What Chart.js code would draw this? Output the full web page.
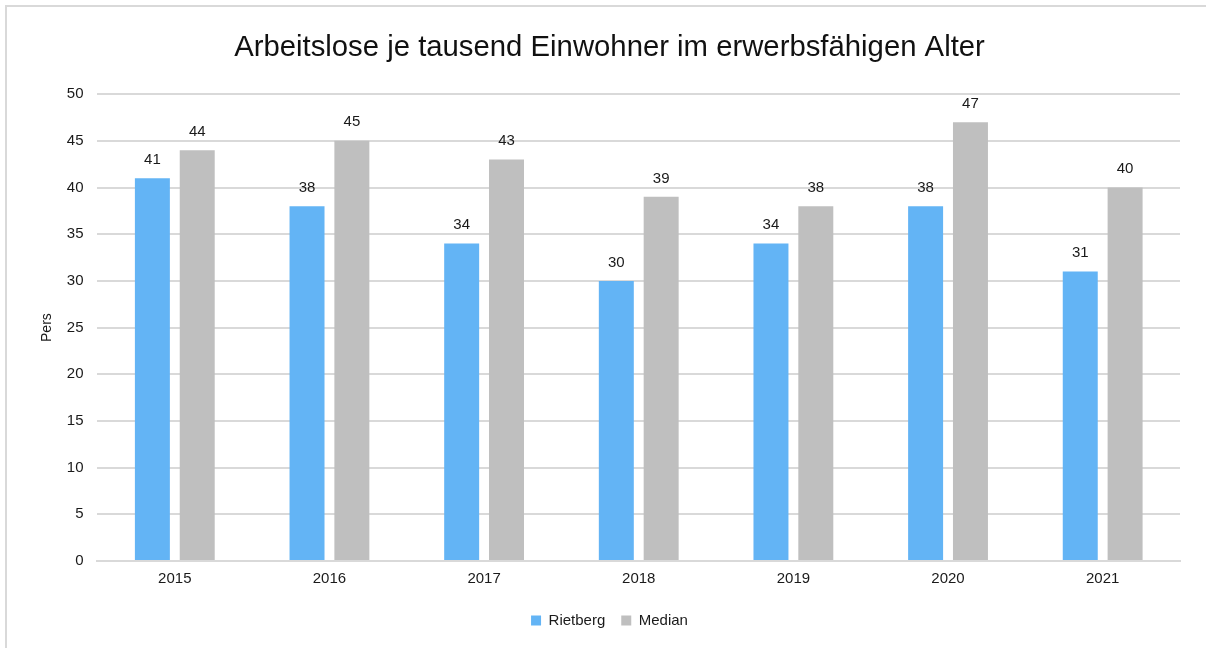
<!DOCTYPE html>
<html>
<head>
<meta charset="utf-8">
<script src="https://cdn.jsdelivr.net/npm/chart.js@4"></script>
<style>
  html, body { margin: 0; padding: 0; background: #fff; }
  #wrap { position: relative; width: 1206px; height: 648px; overflow: hidden; }
  #frame {
    position: absolute; left: 5px; top: 5px; width: 1220px; height: 660px;
    border: 2px solid #d9d9d9; pointer-events: none;
  }
</style>
</head>
<body>
<div id="wrap">
  <canvas id="chartAlo" width="1206" height="648"></canvas>
  <div id="frame"></div>
</div>
<script>
  // Arbeitslose je 1000 Einwohner, 2015–2021
  const YEARS    = ['2015', '2016', '2017', '2018', '2019', '2020', '2021'];
  const RIETBERG = [41, 38, 34, 30, 34, 38, 31];
  const MEDIAN   = [44, 45, 43, 39, 38, 47, 40];

  const BLUE = '#63b4f5';
  const GREY = '#bfbfbf';
  const RULE = '#d9d9d9';
  const FONT = "'Liberation Sans', Arial, sans-serif";

  // value labels above each bar
  const barLabels = {
    id: 'barLabels',
    afterDatasetsDraw(chart) {
      const ctx = chart.ctx;
      ctx.save();
      ctx.font = '15px ' + FONT;
      ctx.fillStyle = '#1a1a1a';
      ctx.textAlign = 'center';
      ctx.textBaseline = 'bottom';
      chart.data.datasets.forEach((ds, i) => {
        chart.getDatasetMeta(i).data.forEach((bar, j) => {
          ctx.fillText(String(ds.data[j]), bar.x, bar.y - 11);
        });
      });
      ctx.restore();
    }
  };

  Chart.defaults.font.family = FONT;
  Chart.defaults.color = '#1a1a1a';

  new Chart(document.getElementById('chartAlo'), {
    type: 'bar',
    data: {
      labels: YEARS,
      datasets: [
        { label: 'Rietberg', data: RIETBERG, backgroundColor: BLUE },
        { label: 'Median',   data: MEDIAN,   backgroundColor: GREY },
      ],
    },
    options: {
      responsive: false,
      animation: false,
      categoryPercentage: 0.58,
      barPercentage: 0.78,
      layout: { padding: { left: 39, right: 26, top: 30, bottom: 10 } },
      plugins: {
        title: {
          display: true,
          text: 'Arbeitslose je tausend Einwohner im erwerbsfähigen Alter',
          font: { size: 29.3, weight: 'normal' },
          color: '#111',
          padding: { top: 0, bottom: 29 },
        },
        legend: {
          position: 'bottom',
          labels: {
            boxWidth: 10,
            boxHeight: 10,
            padding: 16,
            font: { size: 15 },
            color: '#1a1a1a',
          },
        },
        tooltip: { enabled: false },
      },
      scales: {
        x: {
          grid: { display: false, drawTicks: false },
          border: { color: RULE, width: 2 },
          ticks: { font: { size: 15 }, padding: 9 },
        },
        y: {
          min: 0,
          max: 50,
          ticks: { stepSize: 5, font: { size: 15 }, padding: 14 },
          grid: { color: RULE, lineWidth: 2, drawTicks: false },
          border: { display: false },
          title: { display: true, text: 'Pers', font: { size: 14 }, padding: { top: 0, bottom: -3 } },
        },
      },
    },
    plugins: [barLabels],
  });
</script>
</body>
</html>
